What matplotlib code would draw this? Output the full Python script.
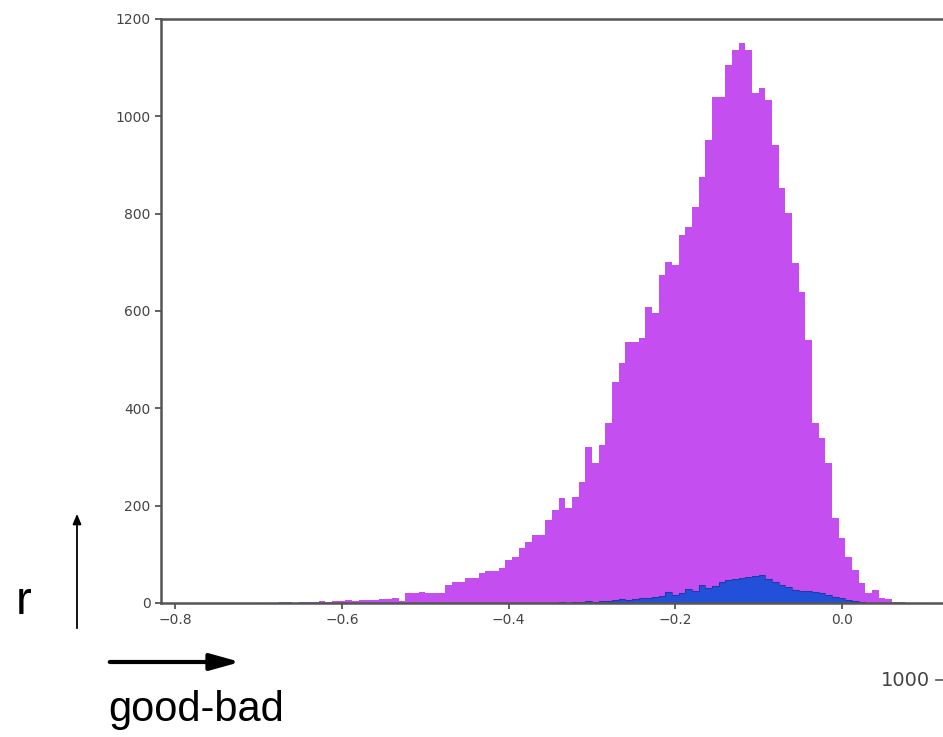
import numpy as np
import matplotlib
matplotlib.use("Agg")
import matplotlib.pyplot as plt
from matplotlib.lines import Line2D
from matplotlib.patches import FancyArrowPatch

# histogram bins (100 bins over the score range)
BIN_LO, BIN_HI, N_BINS = -0.70, 0.10, 100

# counts, all samples (purple)
all_counts = [
    0, 0, 1, 3, 2, 1, 2, 3, 2, 4,
    3, 5, 4, 6, 5, 7, 6, 7, 8, 9,
    10, 4, 20, 20, 23, 20, 20, 20, 37, 43,
    43, 51, 51, 62, 66, 66, 72, 88, 95, 113,
    126, 140, 140, 171, 191, 215, 195, 218, 249, 321,
    288, 325, 370, 454, 493, 536, 536, 544, 608, 596,
    674, 701, 695, 756, 773, 814, 875, 951, 1040, 1040,
    1105, 1136, 1150, 1136, 1048, 1058, 1033, 941, 853, 801,
    698, 640, 540, 370, 339, 288, 175, 133, 95, 68,
    41, 20, 27, 10, 8, 3, 2, 1, 0, 1,
]

# counts, bad subset (blue)
bad_counts = [
    0, 0, 0, 0, 0, 0, 0, 0, 0, 0,
    0, 0, 0, 0, 0, 0, 0, 0, 0, 0,
    0, 0, 0, 0, 0, 0, 0, 0, 0, 0,
    0, 0, 0, 0, 0, 0, 0, 0, 0, 0,
    0, 0, 0, 0, 1, 2, 1, 3, 2, 4,
    3, 5, 4, 6, 8, 7, 9, 11, 10, 13,
    15, 22, 17, 21, 29, 24, 36, 30, 35, 44,
    47, 50, 52, 53, 56, 57, 50, 44, 38, 32,
    26, 24, 24, 22, 20, 16, 13, 10, 7, 4,
    2, 1, 0, 0, 0, 0, 0, 0, 0, 0,
]

x_ticks = [-0.8, -0.6, -0.4, -0.2, 0.0]
y_ticks = [0, 200, 400, 600, 800, 1000, 1200]

PURPLE = "#c44ef0"
BLUE = "#2350d8"
GREY = "#555555"

W, H = 943, 737
fig = plt.figure(figsize=(W / 100, H / 100), dpi=100)

# axes: left spine at x=161px, bottom at y=603px, top at y=19px, runs past the right edge
px_per_unit = 833.5
left_px, right_px = 161, 963
ax = fig.add_axes([left_px / W, (H - 603) / H, (right_px - left_px) / W, (603 - 19) / H])

edges = np.linspace(BIN_LO, BIN_HI, N_BINS + 1)
ax.stairs(all_counts, edges, fill=True, color=PURPLE, lw=0)
ax.stairs(bad_counts, edges, fill=True, color=BLUE, lw=0)
ax.stairs(bad_counts, edges, fill=False, color="#1a2f8a", lw=0.8, alpha=0.6)

x0 = (left_px - 842) / px_per_unit
x1 = x0 + (right_px - left_px) / px_per_unit
ax.set_xlim(x0, x1)
ax.set_ylim(0, 1200)
ax.set_xticks(x_ticks)
ax.set_yticks(y_ticks)
ax.set_xticklabels([f"{t:.1f}".replace("-", "\u2212") for t in x_ticks])
ax.tick_params(colors=GREY, labelcolor="#444444", labelsize=10, length=4, width=1.3)
for s in ["left", "bottom", "top"]:
    ax.spines[s].set_color(GREY)
    ax.spines[s].set_linewidth(1.8)
ax.spines["right"].set_visible(False)

# annotations around the plot
fig.text(24 / W, 1 - 614 / H, "r", fontsize=34, family="Liberation Sans",
         ha="center", va="baseline")
fig.text(196 / W, 1 - 721 / H, "good-bad", fontsize=30, family="Liberation Sans",
         ha="center", va="baseline")
fig.add_artist(FancyArrowPatch(
    (77 / W, 1 - 631 / H), (77 / W, 1 - 511 / H), transform=fig.transFigure,
    arrowstyle="-|>,head_length=6,head_width=2.5", lw=1.3, color="black"))
fig.add_artist(FancyArrowPatch(
    (107 / W, 1 - 662 / H), (243 / W, 1 - 662 / H), transform=fig.transFigure,
    arrowstyle="-|>,head_length=18,head_width=5", lw=3, color="black"))

# tick label of the neighbouring panel, cut off at the right edge
fig.text(930 / W, 1 - 680 / H, "1000", fontsize=14, color="#444444",
         ha="right", va="center")
fig.add_artist(Line2D([936 / W, 943 / W], [1 - 680 / H, 1 - 680 / H],
                      color=GREY, lw=1.2, transform=fig.transFigure))

fig.savefig("out.png", dpi=100)
